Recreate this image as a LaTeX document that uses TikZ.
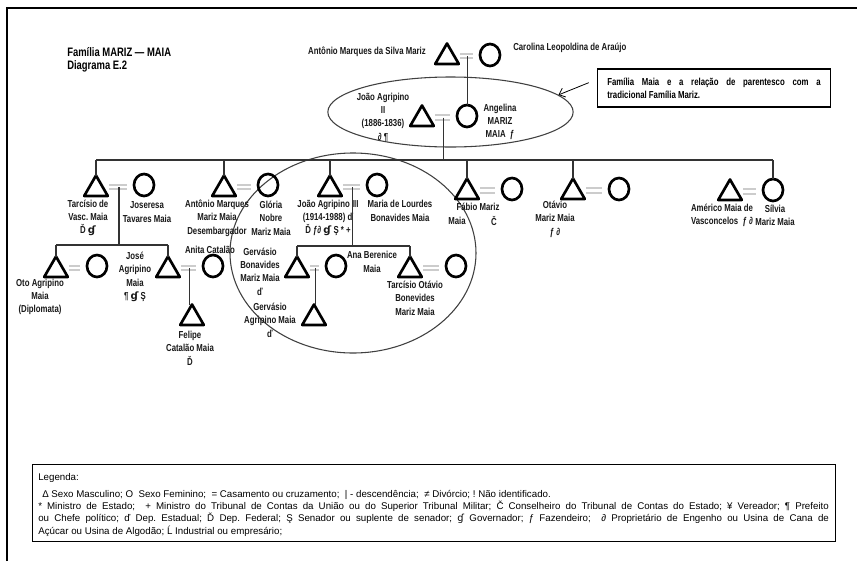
\documentclass[tikz,border=0pt]{standalone}
\usepackage{fontspec}
\setmainfont{Liberation Sans}
\newfontfamily\lab{Liberation Sans}[FakeStretch=0.77]
\newfontfamily\dv{DejaVu Sans}
\usetikzlibrary{shapes.geometric,arrows.meta,calc}
\newcommand{\gv}{{\dv ɠ}}
\frenchspacing
\begin{document}
\begin{tikzpicture}[x=0.75pt,y=-0.75pt,
 tri/.style={regular polygon, regular polygon sides=3, draw, line width=2pt, line join=round, minimum size=20.5pt, inner sep=0pt, outer sep=0pt, anchor=south},
 fem/.style={ellipse, draw, line width=2pt, minimum width=15pt, minimum height=16.5pt, inner sep=0pt, outer sep=0pt},
 marr/.style={draw=black!20, line width=1.4pt, double=white, double distance=2pt, shorten <=4pt, shorten >=5pt},
 desc/.style={draw=black!80, line width=0.9pt},
 lbl/.style={font=\lab\bfseries\fontsize{7.6}{10}\selectfont, align=center, inner sep=0pt, text=black!90},
 hl/.style={ellipse, draw=black!75, line width=0.8pt, inner sep=0pt}
]
\useasboundingbox (0,0) rectangle (857,561);
\fill[white] (0,0) rectangle (857,561);
% frame
\draw[line width=2pt] (7,561) -- (7,8) -- (857,8);

% title
\node[anchor=west, align=left, font=\lab\bfseries\fontsize{9.2}{9.75}\selectfont, inner sep=0pt] (title) at (67,59.5) {Família MARIZ — MAIA\\Diagrama E.2};

% highlight ellipses
\node[hl, minimum width=184pt, minimum height=52.5pt] (hl1) at (450.5,112) {};
\node[hl, minimum width=184.5pt, minimum height=150pt] (hl2) at (353,253) {};

% generation 0
\node[tri] (t0) at (447,64) {};
\node[fem] (c0) at (490,55) {};
\node[lbl, anchor=east] (l0a) at (426,52) {Antônio Marques da Silva Mariz};
\node[lbl, anchor=west] (l0b) at (513,48) {Carolina Leopoldina de Araújo};

% generation 1
\node[tri] (t1) at (422,126) {};
\node[fem] (c1) at (467,116) {};
\node[lbl] (l1a) at (383,117) {João Agripino\\II\\(1886-1836)\\∂ ¶};
\node[lbl] (l1b) at (500,122) {Angelina\\MARIZ\\MAIA\ \ ƒ};

% note
\node[draw, line width=0.8pt, font=\lab\bfseries\fontsize{7.6}{10}\selectfont, text width=160pt, align=justify, inner xsep=7.5pt, inner ysep=4pt, minimum height=28.5pt] (note) at (714,88) {Família Maia e a relação de parentesco com a\linebreak tradicional Família Mariz.};
\draw[-{Straight Barb[length=4pt,width=7pt]}, line width=0.6pt] ([xshift=-6pt,yshift=4pt]note.west) -- (hl1.9);

% generation 2
\node[tri] (t2) at (96,196) {};
\node[fem] (c2) at (144,185) {};
\node[tri] (t3) at (224,196) {};
\node[fem] (c3) at (268,185) {};
\node[tri] (t4) at (330,196) {};
\node[fem] (c4) at (377,185) {};
\node[tri] (t5) at (467,199) {};
\node[fem] (c5) at (512,189) {};
\node[tri] (t6) at (573,199) {};
\node[fem] (c6) at (619,189) {};
\node[tri] (t7) at (730,200) {};
\node[fem] (c7) at (773,190) {};

\node[lbl] (l2a) at (88,218) {Tarcísio de\\Vasc. Maia\\Ď \gv};
\node[lbl] (l2b) at (147,212) {Joseresa\\Tavares Maia};
\node[lbl] (l3a) at (217,218) {Antônio Marques\\Mariz Maia\\Desembargador};
\node[lbl] (l3b) at (271,218) {Glória\\Nobre\\Mariz Maia};
\node[lbl] (l4a) at (328,218) {João Agripino III\\(1914-1988) ď\\Ď ƒ∂ \gv\ Ş * +};
\node[lbl] (l4b) at (400,211) {Maria de Lourdes\\Bonavides Maia};
\node[lbl] (l5a) at (478,207) {Fábio Mariz};
\node[lbl] (l5b) at (457,221) {Maia};
\node[lbl] (l5c) at (494,221) {Č};
\node[lbl] (l6a) at (555,219) {Otávio\\Mariz Maia\\ƒ ∂};
\node[lbl] (l7a) at (722,215) {Américo Maia de\\Vasconcelos\ \ ƒ ∂};
\node[lbl] (l7b) at (775,215) {Sílvia\\Mariz Maia};

% generation 3
\node[tri] (t8) at (56,277) {};
\node[fem] (c8) at (97,266) {};
\node[tri] (t9) at (168,277) {};
\node[fem] (c9) at (213,266) {};
\node[tri] (t10) at (192,325) {};
\node[tri] (t11) at (297,277) {};
\node[fem] (c11) at (336,266) {};
\node[tri] (t12) at (314,325) {};
\node[tri] (t13) at (410,277) {};
\node[fem] (c13) at (456,266) {};

\node[lbl] (l8) at (40,297) {Oto Agripino\\Maia\\(Diplomata)};
\node[lbl] (l9a) at (135,277) {José\\Agripino\\Maia\\¶ \gv\ Ş};
\node[lbl] (l9b) at (210,250) {Anita Catalão};
\node[lbl] (l10) at (190,348) {Felipe\\Catalão Maia\\Ď};
\node[lbl] (l11) at (260,271.5) {Gervásio\\Bonavides\\Mariz Maia\\ď};
\node[lbl] (l12) at (270,320) {Gervásio\\Agripino Maia\\ď};
\node[lbl] (l11b) at (372,262) {Ana Berenice\\Maia};
\node[lbl] (l13) at (415,298) {Tarcísio Otávio\\Bonevides\\Mariz Maia};

% marriages
\foreach \a/\b/\m in {t0/c0/m0,t1/c1/m1,t2/c2/m2,t3/c3/m3,t4/c4/m4,t5/c5/m5,t6/c6/m6,t7/c7/m7,t8/c8/m8,t9/c9/m9,t11/c11/m11,t13/c13/m13}{
  \coordinate (\m) at ($(\a.east)!0.5!(\b.west)$);
  \draw[marr] (\a.east |- \m) -- (\b.west |- \m);
}

% descent
\draw[desc] (m0) -- (m0 |- c1.north);
\coordinate (b0) at (445,160);
\draw[desc] (m1) -- (m1 |- b0);
\draw[desc] (t2.north |- b0) -- (c7.north |- b0);
\foreach \n in {t2,t3,t4,t5,t6,c7} \draw[desc] (\n.north) -- (\n.north |- b0);

\coordinate (b2) at (117,245);
\draw[desc] (m2) -- (m2 |- b2);
\draw[desc] (t8.north |- b2) -- (t9.north |- b2);
\foreach \n in {t8,t9} \draw[desc] (\n.north) -- (\n.north |- b2);
\draw[desc] (m9) -- (m9 |- t10.north);

\coordinate (b4) at (352,246);
\draw[desc] (m4) -- (m4 |- b4);
\draw[desc] (t11.north |- b4) -- (t13.north |- b4);
\foreach \n in {t11,t13} \draw[desc] (\n.north) -- (\n.north |- b4);
\draw[desc] (m11) -- (m11 |- t12.north);

% legend
\node[draw, line width=1pt, anchor=north west, minimum width=602pt, minimum height=57.75pt, inner sep=0pt] (legbox) at (32,464) {};
\node[anchor=north west, text width=593pt, align=justify, inner sep=0pt, font=\fontsize{7.3}{9.3}\selectfont] (legtext) at ([shift={(4.5pt,-7pt)}]legbox.north west) {Legenda:\\[3pt]
\hspace*{3pt}Δ Sexo Masculino; O\ \ Sexo Feminino;\ \ = Casamento ou cruzamento;\ \ | - descendência;\ \ ≠ Divórcio; ! Não identificado.\\\relax
* Ministro de Estado;\ \ + Ministro do Tribunal de Contas da União ou do Superior Tribunal Militar; Č Conselheiro do Tribunal de Contas do Estado; ¥ Vereador; ¶ Prefeito\linebreak
ou Chefe político; ď Dep. Estadual; Ď Dep. Federal; Ş Senador ou suplente de senador; \gv\ Governador; ƒ Fazendeiro;\ \ ∂ Proprietário de Engenho ou Usina de Cana de\linebreak
Açúcar ou Usina de Algodão; Ĺ Industrial ou empresário;};
\end{tikzpicture}
\end{document}
